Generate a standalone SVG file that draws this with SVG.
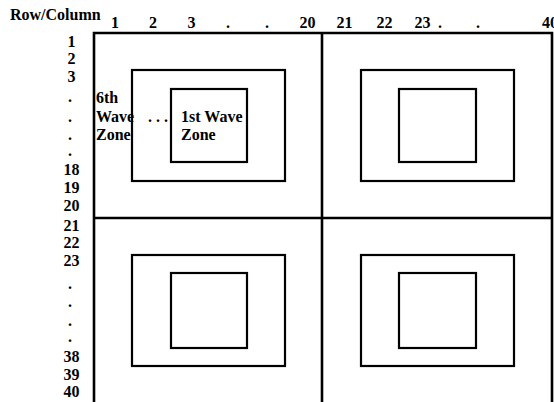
<svg xmlns="http://www.w3.org/2000/svg" width="554" height="402" viewBox="0 0 554 402">
<style>
text{font-family:"Liberation Serif","Times New Roman",serif;font-weight:bold;font-size:16px;fill:#000}
.row{text-anchor:middle}
.col{text-anchor:middle}
.outer{fill:none;stroke:#000;stroke-width:2.6}
.zone{fill:none;stroke:#000;stroke-width:2.2}
</style>
<rect width="554" height="402" fill="#fff"/>
<g id="grid">
<path class="outer" d="M94,405 V33 H552 V405 M322,33 V405 M94,218 H552"/>
</g>
<g id="quadrant-tl">
<rect class="zone" x="132" y="70" width="153" height="111"/>
<rect class="zone" x="171" y="89" width="76" height="73"/>
<text x="96" y="103">6th</text>
<text x="96" y="122">Wave</text>
<text x="96" y="140">Zone</text>
<text x="148" y="122">. . .</text>
<text x="181" y="122">1st Wave</text>
<text x="181" y="140">Zone</text>
</g>
<g id="quadrant-tr">
<rect class="zone" x="361" y="70" width="153" height="111"/>
<rect class="zone" x="399" y="89" width="77" height="73"/>
</g>
<g id="quadrant-bl">
<rect class="zone" x="132" y="255" width="153" height="111"/>
<rect class="zone" x="171" y="273" width="76" height="75"/>
</g>
<g id="quadrant-br">
<rect class="zone" x="361" y="255" width="153" height="111"/>
<rect class="zone" x="399" y="273" width="77" height="75"/>
</g>
<g id="header">
<text x="10" y="20">Row/Column</text>
</g>
<g id="columns" class="col">
<text x="115" y="28">1</text>
<text x="153" y="28">2</text>
<text x="191.5" y="28">3</text>
<text x="228" y="28">.</text>
<text x="267" y="28">.</text>
<text x="307.5" y="28">20</text>
<text x="344.5" y="28">21</text>
<text x="384.5" y="28">22</text>
<text x="422.5" y="28">23</text>
<text x="440" y="28">.</text>
<text x="478" y="28">.</text>
<text x="550" y="28">40</text>
</g>
<g id="rows" class="row">
<text x="71.5" y="47">1</text>
<text x="71.5" y="64">2</text>
<text x="71.5" y="82">3</text>
<text x="70" y="102">.</text>
<text x="70" y="122">.</text>
<text x="70" y="140">.</text>
<text x="70" y="156">.</text>
<text x="71.5" y="175">18</text>
<text x="71.5" y="193">19</text>
<text x="71.5" y="211">20</text>
<text x="71.5" y="231">21</text>
<text x="71.5" y="248">22</text>
<text x="71.5" y="266">23</text>
<text x="70" y="289">.</text>
<text x="70" y="307">.</text>
<text x="70" y="326">.</text>
<text x="70" y="342">.</text>
<text x="71.5" y="362">38</text>
<text x="71.5" y="380">39</text>
<text x="71.5" y="397">40</text>
</g>
</svg>
